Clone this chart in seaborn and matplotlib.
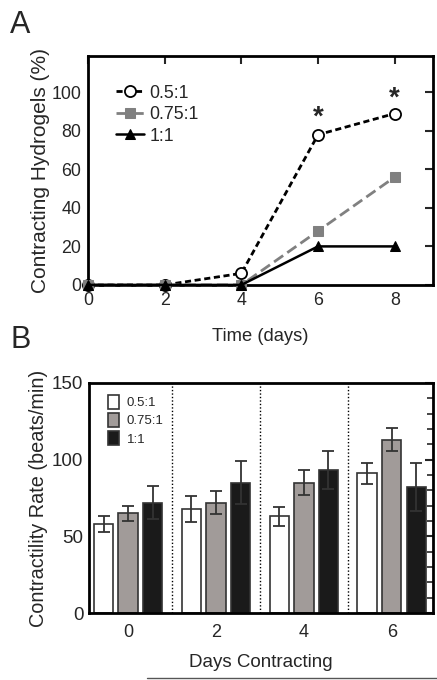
import numpy as np
import pandas as pd
import matplotlib
matplotlib.use("Agg")
import matplotlib.pyplot as plt
import seaborn as sns
from matplotlib.lines import Line2D
from matplotlib.ticker import MultipleLocator

sns.set_theme(style="white")
plt.rcParams['font.family'] = ['Liberation Sans', 'DejaVu Sans']

# ---- Panel A data ----
days_a = [0, 2, 4, 6, 8]
ratios = ["0.5:1", "0.75:1", "1:1"]
pct_05 = [0, 0, 6, 78, 89]
pct_075 = [0, 0, 0, 28, 56]
pct_1 = [0, 0, 0, 20, 20]
star_x = [6, 8]
star_y = [80, 90]

# ---- Panel B data ----
days_b = ["0", "2", "4", "6"]
rate_05 = [58, 68, 63, 91]
rate_075 = [65, 72, 85, 113]
rate_1 = [72, 85, 93, 82]
err_05 = [5.5, 8.5, 6, 6.6]
err_075 = [5, 7.3, 8, 7.5]
err_1 = [10.5, 14, 12.5, 15.5]

fig = plt.figure(figsize=(4.37, 6.8), dpi=100)
axA = fig.add_axes([0.2014, 0.581, 0.7896, 0.337])
axB = fig.add_axes([0.2037, 0.0985, 0.7873, 0.3385])

# ---- Panel A ----
dfA = pd.DataFrame({"day": days_a * 3,
                    "pct": pct_05 + pct_075 + pct_1,
                    "ratio": [r for r in ratios for _ in days_a]})
styles = {
    "0.5:1": dict(color="black", linestyle=(0, (2.2, 1.3)), marker="o", markersize=8,
                  markerfacecolor="white", markeredgecolor="black", markeredgewidth=1.3, linewidth=2),
    "0.75:1": dict(color="#808080", linestyle=(0, (4, 1.8)), marker="s", markersize=7,
                   markerfacecolor="#808080", markeredgecolor="#808080", linewidth=2),
    "1:1": dict(color="black", linestyle="-", marker="^", markersize=7,
                markerfacecolor="black", markeredgecolor="black", linewidth=1.8),
}
for r in ratios:
    sub = dfA[dfA["ratio"] == r]
    sns.lineplot(data=sub, x="day", y="pct", ax=axA, label=r, clip_on=False, zorder=3, **styles[r])

for x, y in zip(star_x, star_y):
    axA.text(x, y, "*", ha="center", va="bottom", fontsize=20, fontweight="bold")

axA.set_xlim(0, 9)
axA.set_ylim(0, 119)
axA.set_xticks([0, 2, 4, 6, 8])
axA.set_yticks([0, 20, 40, 60, 80, 100])
axA.set_xlabel("Time (days)", fontsize=13.2, labelpad=14)
axA.set_ylabel("Contracting Hydrogels (%)", fontsize=15, labelpad=1)
axA.tick_params(direction="in", length=6, width=1.5, top=True, right=True,
                labelsize=12.8, pad=5)
for s in axA.spines.values():
    s.set_linewidth(2)
    s.set_color("black")
leg = axA.legend(loc="upper left", bbox_to_anchor=(0.06, 0.905), frameon=False,
                 fontsize=12.8, handlelength=1.6, handletextpad=0.3, labelspacing=0.25,
                 borderaxespad=0)

# ---- Panel B ----
dfB = pd.DataFrame({"day": days_b * 3,
                    "rate": rate_05 + rate_075 + rate_1,
                    "err": err_05 + err_075 + err_1,
                    "ratio": [r for r in ratios for _ in days_b]})
palB = {"0.5:1": "white", "0.75:1": "#a19b99", "1:1": "#1a1a1a"}
sns.barplot(data=dfB, x="day", y="rate", hue="ratio", palette=palB, ax=axB,
            errorbar=None, width=0.84, gap=0.21, edgecolor="#333333", linewidth=1.2,
            saturation=1)
for cont, r in zip(axB.containers, ratios):
    sub = dfB[dfB["ratio"] == r]
    xs = [p.get_x() + p.get_width() / 2 for p in cont.patches]
    axB.errorbar(xs, sub["rate"].values, yerr=sub["err"].values, fmt="none",
                 ecolor="#333333", elinewidth=1.3, capsize=4, capthick=1.3, zorder=4)
for xv in [0.5, 1.5, 2.5]:
    axB.axvline(xv, color="black", linestyle=(0, (1, 1.5)), linewidth=1)

axB.set_xlim(-0.445, 3.47)
axB.set_ylim(0, 150)
axB.set_yticks([0, 50, 100, 150])
axB.yaxis.set_minor_locator(MultipleLocator(10))
axB.set_xlabel("Days Contracting", fontsize=13.5, labelpad=9)
axB.set_ylabel("Contractility Rate (beats/min)", fontsize=14.3, labelpad=3)
axB.tick_params(axis="y", which="major", direction="in", length=6, width=1.5,
                right=True, labelsize=13.5, pad=4)
axB.tick_params(axis="y", which="minor", direction="in", length=4, width=1.2, right=True)
axB.tick_params(axis="x", length=0, labelsize=13, pad=8)
for s in axB.spines.values():
    s.set_linewidth(2)
    s.set_color("black")
axB.legend(loc="upper left", bbox_to_anchor=(0.04, 0.97), frameon=False,
           fontsize=9.5, handlelength=0.8, handleheight=1.2, handletextpad=0.6,
           labelspacing=0.3, borderaxespad=0)

# panel letters
fig.text(0.023, 0.985, "A", fontsize=22, va="top", ha="left")
fig.text(0.023, 0.522, "B", fontsize=22, va="top", ha="left")
fig.add_artist(Line2D([0.336, 1.0], [0.003, 0.003], color="#555555", linewidth=1,
                      transform=fig.transFigure))

fig.savefig("out.png", dpi=100)
